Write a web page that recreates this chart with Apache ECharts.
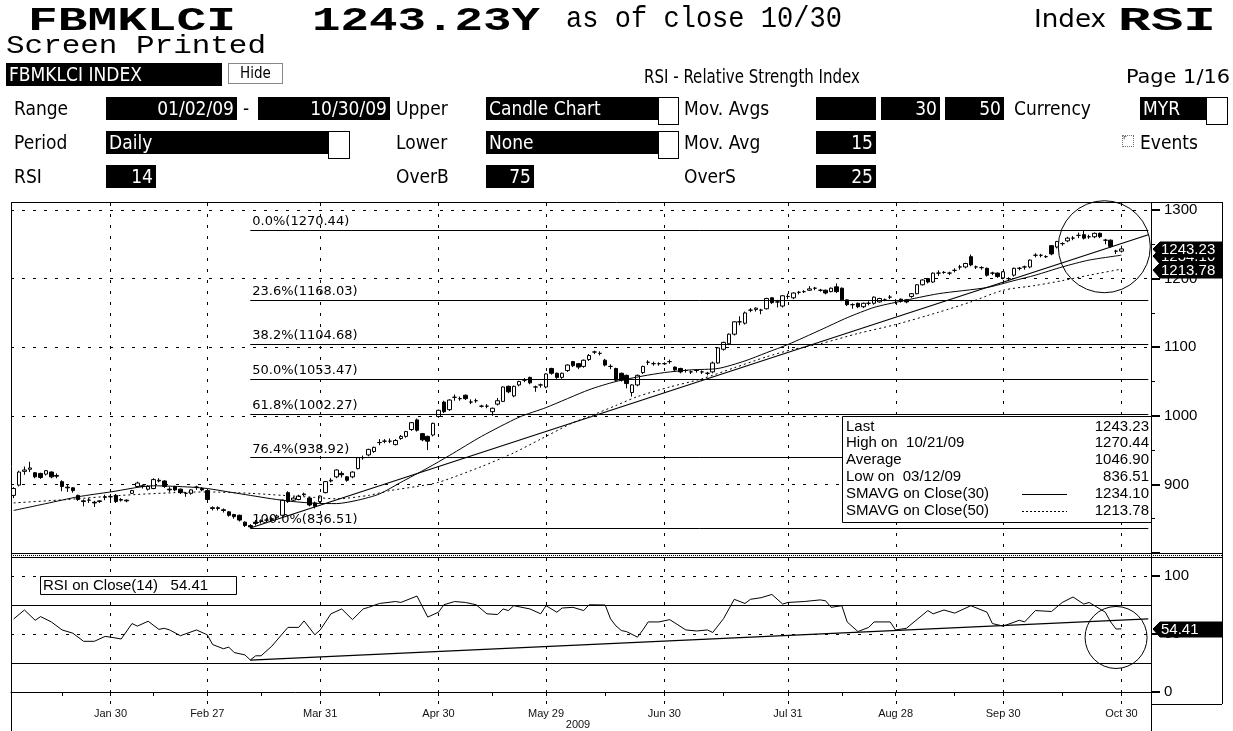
<!DOCTYPE html>
<html>
<head>
<meta charset="utf-8">
<script src="https://cdn.jsdelivr.net/npm/echarts@6/dist/echarts.min.js"></script>
<style>
html,body{margin:0;padding:0;background:#fff;width:1233px;height:731px;overflow:hidden;}
#chart{position:absolute;left:0;top:0;width:1233px;height:731px;}
#hdr{position:absolute;left:0;top:0;width:1233px;height:200px;z-index:5;}
.t{position:absolute;white-space:nowrap;color:#000;line-height:1;transform-origin:0 0;}
.big{font-family:"Liberation Mono","DejaVu Sans Mono",monospace;font-weight:bold;font-size:34px;}
.mono{font-family:"Liberation Mono","DejaVu Sans Mono",monospace;}
.c{font-family:"DejaVu Sans Condensed","DejaVu Sans",sans-serif;font-stretch:condensed;font-size:19px;}
.bk{position:absolute;background:#000;color:#fff;font-family:"DejaVu Sans Condensed","DejaVu Sans",sans-serif;font-stretch:condensed;font-size:19px;line-height:23px;height:23px;white-space:nowrap;box-sizing:border-box;padding:0 3px;overflow:hidden;}
.r{text-align:right;}
.sq{position:absolute;background:#fff;border:1px solid #000;box-sizing:border-box;}
</style>
</head>
<body>
<div id="chart"></div>
<div id="hdr">
  <div class="t big" style="left:28px;top:4px" data-w="208">FBMKLCI</div>
  <div class="t big" style="left:312px;top:4px" data-w="228">1243.23Y</div>
  <div class="t mono" style="left:566px;top:4px;font-size:30px" data-w="276">as of close 10/30</div>
  <div class="t c" style="left:1034px;top:6px;font-size:25px" data-w="72">Index</div>
  <div class="t big" style="left:1118px;top:4px" data-w="98">RSI</div>
  <div class="t mono" style="left:6px;top:33px;font-size:26px" data-w="260">Screen Printed</div>

  <div class="bk" style="left:6px;top:63px;width:216px;">FBMKLCI INDEX</div>
  <div class="t c" style="left:228px;top:63px;width:55px;height:21px;border:1px solid #888;box-sizing:border-box;text-align:center;font-size:15px;line-height:19px;">Hide</div>
  <div class="t c" style="left:644px;top:67px" data-w="216">RSI - Relative Strength Index</div>
  <div class="t c" style="left:1126px;top:67px" data-w="104">Page 1/16</div>

  <div class="t c" style="left:14px;top:99px">Range</div>
  <div class="bk r" style="left:106px;top:97px;width:131px;">01/02/09</div>
  <div class="t c" style="left:243px;top:99px">-</div>
  <div class="bk r" style="left:258px;top:97px;width:132px;">10/30/09</div>
  <div class="t c" style="left:396px;top:99px">Upper</div>
  <div class="bk" style="left:486px;top:97px;width:172px;">Candle Chart</div>
  <div class="sq" style="left:658px;top:97px;width:21px;height:28px;"></div>
  <div class="t c" style="left:684px;top:99px">Mov. Avgs</div>
  <div class="bk r" style="left:816px;top:97px;width:60px;"></div>
  <div class="bk r" style="left:881px;top:97px;width:59px;">30</div>
  <div class="bk r" style="left:945px;top:97px;width:59px;">50</div>
  <div class="t c" style="left:1014px;top:99px">Currency</div>
  <div class="bk" style="left:1140px;top:97px;width:66px;">MYR</div>
  <div class="sq" style="left:1206px;top:97px;width:22px;height:28px;"></div>

  <div class="t c" style="left:14px;top:133px">Period</div>
  <div class="bk" style="left:106px;top:131px;width:222px;">Daily</div>
  <div class="sq" style="left:328px;top:131px;width:22px;height:28px;"></div>
  <div class="t c" style="left:396px;top:133px">Lower</div>
  <div class="bk" style="left:486px;top:131px;width:172px;">None</div>
  <div class="sq" style="left:658px;top:131px;width:21px;height:28px;"></div>
  <div class="t c" style="left:684px;top:133px">Mov. Avg</div>
  <div class="bk r" style="left:816px;top:131px;width:60px;">15</div>
  <div class="t" style="left:1122px;top:135px;width:10px;height:10px;border:1px dotted #777;font-size:9px;line-height:9px;">&#8988;</div>
  <div class="t c" style="left:1140px;top:133px">Events</div>

  <div class="t c" style="left:14px;top:167px">RSI</div>
  <div class="bk r" style="left:106px;top:165px;width:50px;">14</div>
  <div class="t c" style="left:396px;top:167px">OverB</div>
  <div class="bk r" style="left:486px;top:165px;width:48px;">75</div>
  <div class="t c" style="left:684px;top:167px">OverS</div>
  <div class="bk r" style="left:816px;top:165px;width:60px;">25</div>
</div>
<script>
// ---------------- DATA ----------------
const firstDay = '2009-01-02';
const lastDay = '2009-10-30';
const marketHolidays = ['2009-01-26','2009-01-27','2009-02-02','2009-02-09','2009-03-09','2009-05-01','2009-08-31','2009-09-21','2009-09-22'];
const padDays = ['2009-11-02','2009-11-03','2009-11-04','2009-11-05','2009-11-06'];

const tickDates = ['2009-01-30','2009-02-27','2009-03-31','2009-04-30','2009-05-29','2009-06-30','2009-07-31','2009-08-28','2009-09-30','2009-10-30'];
const tickLabels = ['Jan 30','Feb 27','Mar 31','Apr 30','May 29','Jun 30','Jul 31','Aug 28','Sep 30','Oct 30'];
const midTickDates = ['2009-01-15','2009-02-13','2009-03-16','2009-04-15','2009-05-15','2009-06-15','2009-07-15','2009-08-14','2009-09-15','2009-10-15'];

const priceTicks = [800, 900, 1000, 1100, 1200, 1300];
const rsiTicks = [0, 50, 100];

// daily candles: [open, close, low, high]
const candles = [
[884,894,880,896],[899,918,897,920],[919,921,914,926],[922,924,918,933],[917,911,909,918],
[916,910,908,917],[915,920,913,921],[918,911,909,919],[913,912,909,916],[904,897,890,906],
[896,895,889,899],[895,891,888,896],[884,878,876,885],[876,875,868,878],[877,877,873,880],
[874,873,867,876],[875,876,873,877],[881,882,877,885],[882,882,876,886],[884,875,873,886],
[877,878,875,880],[877,876,874,878],[887,891,886,892],[897,902,896,904],[898,897,894,900],
[893,897,891,899],[894,907,893,909],[905,906,903,909],[905,897,895,906],[893,892,889,896],
[897,892,890,898],[893,888,886,894],[887,887,882,889],[887,892,885,893],[896,896,892,898],
[894,892,890,896],[891,878,876,893],[866,865,862,868],[866,865,862,868],[863,862,859,865],
[860,855,853,861],[856,853,850,857],[855,848,846,856],[845,840,838,846],[840,838,836.51,842],
[843,845,840,848],[846,847,843,849],[848,848,845,851],[849,850,847,852],[852,854,850,856],
[855,877,853,878],[888,875,873,890],[877,880,875,882],[878,883,877,885],[885,886,883,888],
[880,870,868,882],[873,868,865,875],[875,883,873,884],[888,904,887,905],[905,906,903,909],
[911,921,909,922],[916,914,910,919],[911,906,904,912],[911,918,909,919],[923,939,922,940],
[939,939,936,942],[943,951,941,952],[948,954,946,955],[961,961,957,966],[963,963,960,966],
[963,963,960,967],[958,964,957,966],[967,970,965,972],[970,977,968,978],[980,990,978,991],
[994,979,977,996],[974,965,963,975],[970,963,950,971],[972,989,970,990],[999,1008,997,1009],
[1020,1006,1004,1022],[1009,1023,1007,1024],[1027,1027,1022,1031],[1025,1025,1022,1028],[1030,1025,1023,1031],
[1020,1020,1017,1024],[1022,1022,1019,1025],[1014,1014,1012,1016],[1014,1014,1011,1017],[1006,1011,1000,1012],
[1017,1022,1015,1026],[1021,1042,1020,1043],[1043,1035,1033,1044],[1029,1043,1027,1044],[1045,1050,1043,1051],
[1052,1052,1049,1055],[1056,1048,1046,1057],[1042,1042,1035,1044],[1045,1045,1041,1047],[1042,1061,1040,1062],
[1069,1062,1060,1070],[1062,1056,1054,1063],[1056,1062,1054,1063],[1066,1074,1064,1075],[1079,1073,1071,1080],
[1076,1071,1068,1077],[1072,1081,1070,1082],[1082,1088,1080,1090],[1093,1093,1090,1095],[1091,1091,1088,1094],
[1081,1074,1072,1083],[1072,1072,1068,1075],[1069,1052,1050,1070],[1062,1052,1050,1063],[1059,1047,1040,1060],
[1034,1045,1028,1046],[1045,1059,1043,1060],[1063,1072,1061,1073],[1078,1078,1074,1081],[1076,1076,1073,1079],
[1076,1076,1073,1078],[1076,1076,1074,1078],[1079,1079,1076,1082],[1071,1067,1065,1072],[1069,1064,1062,1070],
[1066,1066,1063,1068],[1064,1064,1061,1066],[1066,1066,1063,1068],[1064,1064,1061,1066],[1062,1062,1059,1064],
[1064,1077,1062,1079],[1077,1099,1076,1100],[1097,1107,1095,1108],[1105,1119,1103,1120],[1119,1137,1117,1138],
[1137,1137,1132,1145],[1135,1150,1133,1152],[1154,1154,1151,1157],[1155,1157,1152,1158],[1154,1154,1148,1156],
[1156,1171,1155,1172],[1172,1165,1163,1173],[1166,1166,1158,1169],[1160,1175,1158,1176],[1174,1174,1170,1178],
[1172,1179,1170,1180],[1180,1180,1177,1182],[1181,1181,1179,1183],[1183,1185,1182,1189],[1186,1186,1183,1188],
[1183,1183,1181,1185],[1183,1179,1177,1184],[1181,1186,1180,1187],[1188,1181,1179,1193],[1186,1169,1167,1187],
[1169,1162,1160,1170],[1162,1162,1156,1164],[1164,1159,1157,1165],[1159,1164,1157,1165],[1164,1164,1161,1167],
[1164,1173,1162,1174],[1166,1171,1165,1172],[1169,1169,1167,1171],[1173,1173,1170,1176],[1168,1168,1163,1170],
[1170,1167,1165,1171],[1169,1166,1164,1170],[1174,1178,1172,1179],[1178,1191,1177,1192],[1191,1198,1190,1199],
[1200,1195,1193,1201],[1195,1208,1194,1209],[1208,1208,1204,1212],[1209,1209,1207,1211],[1208,1208,1205,1210],
[1212,1212,1209,1215],[1217,1217,1213,1220],[1217,1222,1215,1223],[1232,1220,1218,1235],[1217,1217,1214,1219],
[1216,1216,1213,1218],[1215,1205,1203,1216],[1208,1208,1205,1210],[1208,1203,1201,1209],[1201,1210,1199,1211],
[1200,1200,1197,1202],[1205,1215,1203,1216],[1215,1215,1212,1217],[1217,1217,1213,1219],[1217,1227,1215,1228],
[1234,1234,1231,1237],[1234,1234,1231,1236],[1232,1232,1230,1234],[1248,1236,1234,1249],[1246,1254,1244,1255],
[1251,1251,1248,1253],[1255,1259,1253,1261],[1259,1259,1256,1262],[1263,1263,1259,1267],[1264,1259,1257,1270.44],
[1261,1261,1258,1264],[1261,1266,1259,1267],[1266,1261,1259,1267],[1256,1256,1250,1258],[1256,1247,1245,1257],
[1240,1240,1236,1242],[1240,1243.23,1238,1248]
];

// moving averages: [trading-day index, value]
const ma30Points = [[0,862],[6,872],[12,882],[18,889],[26,898],[33,896],[36,894],[40,889],[44,884],[48,879],[52,875],[56,872.5],[60,872],[64,877],[68,886],[72,903],[77,924],[81,942],[87,970],[94,998],[99,1012],[107,1038],[112,1050],[117,1058],[121,1063],[126,1067],[131,1069],[136,1080],[140,1092],[144,1104],[150,1125],[155,1143],[160,1158],[165,1167],[172,1178],[181,1187],[186,1197],[190,1205],[195,1217],[200,1227],[206,1234.10]];
const ma50Points = [[0,873],[10,878],[20,884],[30,888],[36,889],[44,887],[50,884],[56,881],[60,879],[66,884],[70,891],[75,897],[79,903],[87,926],[93,946],[98,966],[104,990],[107,999],[112,1015],[116,1028],[122,1042],[128,1054],[134,1070],[140,1086],[145,1097],[150,1105],[157,1120],[164,1133],[172,1151],[178,1166],[184,1183],[190,1190],[195,1197],[200,1205],[206,1213.78]];

// RSI(14): [trading-day index, value]
const rsiPoints = [[0,63],[2,70.7],[4,61.8],[5,65],[7,60.4],[9,53.5],[11,50.7],[13,43.7],[15,43.7],[17,47.9],[18,47.3],[20,45.7],[22,59],[23,56.8],[25,61],[27,54],[28,54.9],[29,53.5],[31,48.5],[34,53.5],[36,49.3],[37,40.9],[39,37.3],[40,38.7],[41,34],[43,32],[44,27.6],[45,31.2],[46,31.2],[48,39.5],[51,55.7],[53,55.7],[54,61.3],[56,49.3],[57,53.5],[59,67.4],[61,71.6],[63,62.4],[65,71.6],[66,73],[68,76.3],[71,78],[72,77.2],[75,82.7],[77,64.6],[79,68.8],[80,75.2],[82,78],[84,77.2],[86,75.2],[88,67.4],[90,66.8],[91,71.6],[92,70.2],[93,74.4],[96,71.6],[98,67.4],[99,74.4],[101,68.8],[102,72.4],[104,73],[106,70.2],[107,75.2],[110,75],[111,63],[112,57],[113,53],[114,52],[116,47.3],[117,53.5],[118,60.4],[120,60.4],[122,62.4],[125,53.5],[127,52.6],[129,53.5],[130,51.3],[132,63.2],[134,79.9],[136,76.3],[137,79.9],[139,81.3],[141,84.1],[143,75.8],[144,77.2],[147,78],[150,79.4],[151,78.6],[152,73],[154,74.4],[155,60.4],[157,52.1],[159,55.7],[160,60.4],[163,60.4],[164,53.5],[166,54.9],[170,70.2],[171,67.4],[173,70.7],[175,68],[178,74.4],[181,68.8],[182,59],[184,56.8],[187,61.8],[188,60.4],[190,70.2],[193,69.4],[195,77.2],[197,81.9],[199,75.8],[200,77.2],[203,68.8],[204,60.4],[205,54.3],[206,54.41]];

// trend lines: [index, value]
const priceTrend = [[44,836.51],[211,1264]];
const rsiTrend = [[44,27.5],[211,63]];

// Fibonacci retracement levels
const fibValues = [1270.44, 1168.03, 1104.68, 1053.47, 1002.27, 938.92, 836.51];
const fibLabels = ['0.0%(1270.44)','23.6%(1168.03)','38.2%(1104.68)','50.0%(1053.47)','61.8%(1002.27)','76.4%(938.92)','100.0%(836.51)'];
const fibStartIndex = 44;

// statistics box
const statLabels = ['Last','High on  10/21/09','Average','Low on  03/12/09','SMAVG on Close(30)','SMAVG on Close(50)'];
const statValues = ['1243.23','1270.44','1046.90','836.51','1234.10','1213.78'];
const lastPrice = 1243.23, lastMa30 = 1234.10, lastMa50 = 1213.78, lastRsi = 54.41;

// ---------------- BUILD ----------------
function tradingDays(a, b, hol) {
  const out = [];
  const d = new Date(a + 'T00:00:00Z'), e = new Date(b + 'T00:00:00Z');
  while (d <= e) {
    const wd = d.getUTCDay();
    const s = d.toISOString().slice(0, 10);
    if (wd !== 0 && wd !== 6 && hol.indexOf(s) < 0) out.push(s);
    d.setUTCDate(d.getUTCDate() + 1);
  }
  return out;
}
const days = tradingDays(firstDay, lastDay, marketHolidays);
const cats = days.concat(padDays);
const labelIdx = new Set(tickDates.map(d => cats.indexOf(d)));
const tickIdx = new Set(tickDates.concat(midTickDates).map(d => cats.indexOf(d)));
const labelMap = {}; tickDates.forEach((d, i) => labelMap[d] = tickLabels[i]);
const pts = arr => arr.map(p => [cats[p[0]], p[1]]);

const FONT = '"Liberation Sans", Arial, sans-serif';
const chart = echarts.init(document.getElementById('chart'), null, {renderer: 'canvas', width: 1233, height: 731});

const yAxisCommon = {
  position: 'right',
  axisLine: {show: true, lineStyle: {color: '#000', width: 1}},
  axisTick: {show: true, length: 9, lineStyle: {color: '#000', width: 2}},
  axisLabel: {color: '#000', fontFamily: FONT, fontSize: 15, margin: 13},
  splitLine: {show: true, lineStyle: {color: '#000', width: 1, type: [3, 8]}}
};

chart.setOption({
  animation: false,
  backgroundColor: '#fff',
  grid: [
    {left: 11, right: 82, top: 210, height: 343},
    {left: 11, right: 82, top: 576, height: 116}
  ],
  xAxis: [
    {type: 'category', gridIndex: 0, data: cats, boundaryGap: true,
     axisLine: {show: false}, axisTick: {show: false}, axisLabel: {show: false}, splitLine: {show: false}},
    {type: 'category', gridIndex: 1, data: cats, boundaryGap: true, offset: 12,
     axisLine: {show: true, lineStyle: {color: '#000'}},
     axisTick: {show: true, alignWithLabel: true, length: 4, interval: (i) => tickIdx.has(i), lineStyle: {color: '#000'}},
     axisLabel: {show: true, interval: (i) => labelIdx.has(i), formatter: (v) => labelMap[v] || '', color: '#111', fontFamily: FONT, fontSize: 11, margin: 4},
     splitLine: {show: false}}
  ],
  yAxis: [
    Object.assign({}, yAxisCommon, {gridIndex: 0, min: priceTicks[0], max: priceTicks[priceTicks.length - 1], interval: 100,
      minorTick: {show: true, splitNumber: 2, length: 4, lineStyle: {color: '#000'}},
      axisLabel: Object.assign({}, yAxisCommon.axisLabel, {formatter: v => v === 800 ? '' : String(v)})}),
    Object.assign({}, yAxisCommon, {gridIndex: 1, min: rsiTicks[0], max: rsiTicks[2], interval: 50})
  ],
  series: [
    {type: 'candlestick', xAxisIndex: 0, yAxisIndex: 0, data: candles, barWidth: 4,
     itemStyle: {color: '#fff', color0: '#000', borderColor: '#000', borderColor0: '#000', borderWidth: 1}},
    {type: 'line', xAxisIndex: 0, yAxisIndex: 0, data: pts(ma30Points), symbol: 'none', smooth: 0.25,
     lineStyle: {color: '#000', width: 1}},
    {type: 'line', xAxisIndex: 0, yAxisIndex: 0, data: pts(ma50Points), symbol: 'none', smooth: 0.25,
     lineStyle: {color: '#000', width: 1, type: [2, 3]}},
    {type: 'line', xAxisIndex: 0, yAxisIndex: 0, data: pts(priceTrend), symbol: 'none',
     lineStyle: {color: '#000', width: 1.2},
     markLine: {silent: true, symbol: ['none', 'none'], animation: false,
       lineStyle: {color: '#000', width: 1, type: 'solid'},
       label: {show: true, position: 'insideStartTop', distance: 2, color: '#000', fontFamily: '"DejaVu Sans", sans-serif', fontSize: 13},
       data: fibValues.map((v, i) => [{coord: [cats[fibStartIndex], v], label: {formatter: fibLabels[i]}}, {coord: [cats[cats.length - 1], v]}])}},
    {type: 'line', xAxisIndex: 1, yAxisIndex: 1, data: pts(rsiPoints), symbol: 'none',
     lineStyle: {color: '#000', width: 1},
     markLine: {silent: true, symbol: ['none', 'none'], label: {show: false},
       lineStyle: {color: '#000', width: 1, type: 'solid'},
       data: [{yAxis: 75}, {yAxis: 25}]}},
    {type: 'line', xAxisIndex: 1, yAxisIndex: 1, data: pts(rsiTrend), symbol: 'none',
     lineStyle: {color: '#000', width: 1.2}}
  ]
});

// ---------------- DECORATIONS (derived from axes) ----------------
const P = (i, v) => chart.convertToPixel({gridIndex: 0}, [cats[i], v]);
const R = (i, v) => chart.convertToPixel({gridIndex: 1}, [cats[i], v]);
const g = [];
const L = (x1, y1, x2, y2, extra) => g.push(Object.assign({type: 'line', silent: true, z: 20,
  shape: {x1, y1, x2, y2}, style: {stroke: '#000', lineWidth: 1}}, extra || {}));

// frame
L(11, 202.5, 1222, 202.5);
L(11.5, 202, 11.5, 731);
L(1151.5, 202, 1151.5, 731);
L(1222.5, 202, 1222.5, 704);
L(1151, 704.5, 1222, 704.5);
L(11, 553.5, 1222, 553.5);
L(11, 557.5, 1222, 557.5);
L(11, 555.5, 1222, 555.5, {style: {stroke: '#000', lineWidth: 1, lineDash: [1, 1]}});

// vertical dashed grid at labelled dates
tickDates.forEach(d => {
  const x = Math.round(chart.convertToPixel({xAxisIndex: 0}, d)) + 0.5;
  L(x, 203, x, 553, {z: 1, style: {stroke: '#000', lineWidth: 1, lineDash: [3, 8]}});
  L(x, 558, x, 704, {z: 1, style: {stroke: '#000', lineWidth: 1, lineDash: [3, 8]}});
});

// annotation circles
const c1 = P(203, 1245);
g.push({type: 'circle', silent: true, z: 21, shape: {cx: c1[0] - 1, cy: c1[1] - 1, r: 46}, style: {stroke: '#000', fill: null, lineWidth: 1}});
const c2 = R(205, 47);
g.push({type: 'circle', silent: true, z: 21, shape: {cx: c2[0], cy: c2[1], r: 31}, style: {stroke: '#000', fill: null, lineWidth: 1}});

// value tags on right axis
function tag(y, text, z) {
  y = Math.round(y);
  g.push({type: 'polygon', silent: true, z: z, shape: {points: [[1153, y], [1160, y - 7], [1222, y - 7], [1222, y + 8], [1160, y + 8]]},
    style: {fill: '#000', stroke: '#000'}});
  g.push({type: 'text', silent: true, z: z + 1, style: {text: text, x: 1161, y: y + 1, fill: '#fff', font: '15px ' + FONT, textAlign: 'left', textVerticalAlign: 'middle'}});
}
tag(P(206, lastMa30)[1] + 1, lastMa30.toFixed(2), 30);
tag(P(206, lastPrice)[1], lastPrice.toFixed(2), 32);
tag(P(206, lastMa50)[1] + 1, lastMa50.toFixed(2), 34);
tag(R(206, lastRsi)[1], lastRsi.toFixed(2), 36);

// statistics box
const bx = 842, by = Math.round(P(0, 1000)[1]) + 0.5, bw = 309, bh = 106;
g.push({type: 'rect', silent: true, z: 25, shape: {x: bx + 0.5, y: by, width: bw, height: bh}, style: {fill: '#fff', stroke: '#000', lineWidth: 1}});
statLabels.forEach((s, i) => {
  const yy = by + 10 + i * 16.8;
  g.push({type: 'text', silent: true, z: 26, style: {text: s, x: bx + 4, y: yy, fill: '#000', font: '15px ' + FONT, textVerticalAlign: 'middle'}});
  g.push({type: 'text', silent: true, z: 26, style: {text: statValues[i], x: 1149, y: yy, fill: '#000', font: '15px ' + FONT, textAlign: 'right', textVerticalAlign: 'middle'}});
});
L(1022, Math.round(by + 10 + 4 * 16.8) + 0.5, 1067, Math.round(by + 10 + 4 * 16.8) + 0.5, {z: 27});
L(1022, Math.round(by + 10 + 5 * 16.8) + 0.5, 1067, Math.round(by + 10 + 5 * 16.8) + 0.5, {z: 27, style: {stroke: '#000', lineWidth: 1, lineDash: [2, 2]}});

// RSI legend box
g.push({type: 'rect', silent: true, z: 25, shape: {x: 40.5, y: 576.5, width: 196, height: 18}, style: {fill: '#fff', stroke: '#000', lineWidth: 1}});
g.push({type: 'text', silent: true, z: 26, style: {text: 'RSI on Close(14)   ' + lastRsi.toFixed(2), x: 43, y: 586, fill: '#000', font: '15px ' + FONT, textVerticalAlign: 'middle'}});

// year label
g.push({type: 'text', silent: true, z: 26, style: {text: '2009', x: 578, y: 725, fill: '#111', font: '11px ' + FONT, textAlign: 'center', textVerticalAlign: 'middle'}});

chart.setOption({graphic: g});

// fit header title widths
document.querySelectorAll('[data-w]').forEach(el => {
  const w = +el.dataset.w;
  const nw = el.getBoundingClientRect().width;
  if (nw > 0) el.style.transform = 'scaleX(' + (w / nw) + ')';
});
</script>
</body>
</html>
